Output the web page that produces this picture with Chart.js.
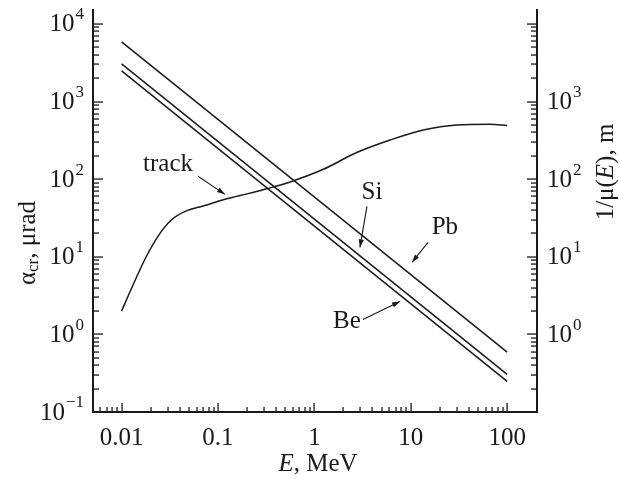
<!DOCTYPE html>
<html>
<head>
<meta charset="utf-8">
<script src="https://cdn.jsdelivr.net/npm/chart.js@4.4.0/dist/chart.umd.min.js"></script>
<style>
  html, body { margin: 0; padding: 0; background: #fff; }
  #wrap { width: 619px; height: 479px; }
</style>
</head>
<body>
<div id="wrap"><canvas id="my-chart" width="619" height="479"></canvas></div>
<script>
// values
const lineEnergy = [0.01, 100]          // E, MeV (end points of the straight lines)
const pbValues = [5860, 0.59]
const siValues = [3050, 0.305]
const beValues = [2480, 0.248]

const trackEnergy = [0.01, 0.013, 0.018, 0.025, 0.033, 0.047, 0.07, 0.118, 0.215, 0.32, 0.56, 1.24, 2.75, 6.1, 13.5, 30, 66, 100]
const trackValues = [2.0, 4.2, 10, 20, 30, 39, 45, 55, 66, 75, 92, 134, 220, 319, 430, 498, 508, 492]

const xTickValues = [0.01, 0.1, 1, 10, 100]
const xTickLabels = ['0.01', '0.1', '1', '10', '100']
const leftExponents = [-1, 0, 1, 2, 3, 4]
const rightExponents = [0, 1, 2, 3]
const minorSteps = [1, 2, 3, 4, 5, 6, 7, 8, 9]
const decades = [-3, -2, -1, 0, 1, 2, 3, 4]

// callouts, in data units (E, value)
const notes = [
  { text: 'track', at: [0.0303, 155], from: [0.0621, 109], to: [0.118, 63.7] },
  { text: 'Si', at: [3.96, 67.6], from: [3.51, 44.6], to: [2.97, 13.2] },
  { text: 'Pb', at: [22.6, 23.9], from: [15.1, 15.3], to: [10.3, 8.47] },
  { text: 'Be', at: [2.18, 1.47], from: [3.19, 1.56], to: [7.73, 2.66] }
]

const SERIF = '"Liberation Serif", "Times New Roman", serif'
const INK = '#1a1a1a'

function pairs(xs, ys) {
  return xs.map((x, i) => ({ x: x, y: ys[i] }))
}

function powerLabel(ctx, exp, x, y, alignRight) {
  const base = '10'
  const sup = exp < 0 ? '\u2212' + Math.abs(exp) : String(exp)
  ctx.font = '25px ' + SERIF
  const wb = ctx.measureText(base).width
  ctx.font = '17px ' + SERIF
  const ws = ctx.measureText(sup).width
  const x0 = alignRight ? x - wb - ws - 1 : x
  ctx.textAlign = 'left'
  ctx.textBaseline = 'middle'
  ctx.font = '25px ' + SERIF
  ctx.fillText(base, x0, y + 1)
  ctx.font = '17px ' + SERIF
  ctx.fillText(sup, x0 + wb + 1, y - 9)
}

// draws a run of [text, font, dy] pieces centred on (0,0)
function pieces(ctx, parts) {
  let total = 0
  parts.forEach(p => { ctx.font = p[1]; total += ctx.measureText(p[0]).width })
  let x = -total / 2
  ctx.textAlign = 'left'
  ctx.textBaseline = 'middle'
  parts.forEach(p => {
    ctx.font = p[1]
    ctx.fillText(p[0], x, p[2] || 0)
    x += ctx.measureText(p[0]).width
  })
}

function arrow(ctx, x1, y1, x2, y2) {
  ctx.beginPath()
  ctx.moveTo(x1, y1)
  ctx.lineTo(x2, y2)
  ctx.stroke()
  const a = Math.atan2(y2 - y1, x2 - x1)
  const len = 8, half = 2.6
  ctx.beginPath()
  ctx.moveTo(x2, y2)
  ctx.lineTo(x2 - len * Math.cos(a) + half * Math.sin(a), y2 - len * Math.sin(a) - half * Math.cos(a))
  ctx.lineTo(x2 - len * Math.cos(a) - half * Math.sin(a), y2 - len * Math.sin(a) + half * Math.cos(a))
  ctx.closePath()
  ctx.fill()
}

const decor = {
  id: 'decor',
  afterDraw(chart) {
    const ctx = chart.ctx
    const area = chart.chartArea
    const xs = chart.scales.x, yl = chart.scales.y, yr = chart.scales.y2
    ctx.save()
    ctx.fillStyle = INK
    ctx.strokeStyle = INK

    // inward ticks as thin filled bars, only where the scale puts them inside the frame
    const L = Math.round(area.left), R = Math.round(area.right), B = Math.round(area.bottom)
    decades.forEach(d => {
      minorSteps.forEach(m => {
        const v = m * Math.pow(10, d)
        const major = m === 1
        const px = xs.getPixelForValue(v)
        if (px > area.left + 1 && px < area.right - 1) {
          ctx.fillRect(Math.round(px) - 0.6, B - (major ? 9 : 5), 1.3, major ? 9 : 5)
        }
        const pl = yl.getPixelForValue(v)
        if (pl > area.top - 1 && pl < area.bottom - 1) {
          ctx.fillRect(L, Math.round(pl) - 0.6, major ? 10 : 6, 1.3)
        }
        const pr = yr.getPixelForValue(v)
        if (pr > area.top - 1 && pr < area.bottom - 1) {
          ctx.fillRect(R - (major ? 10 : 6), Math.round(pr) - 0.6, major ? 10 : 6, 1.3)
        }
      })
    })

    // tick labels
    ctx.font = '25px ' + SERIF
    ctx.textAlign = 'center'
    ctx.textBaseline = 'middle'
    xTickValues.forEach((v, i) => {
      ctx.fillText(xTickLabels[i], xs.getPixelForValue(v), area.bottom + 26)
    })
    leftExponents.forEach(e => powerLabel(ctx, e, area.left - 9, yl.getPixelForValue(Math.pow(10, e)), true))
    rightExponents.forEach(e => powerLabel(ctx, e, area.right + 10, yr.getPixelForValue(Math.pow(10, e)), false))

    // axis titles
    const big = '25px ' + SERIF, small = '17px ' + SERIF, ital = 'italic 25px ' + SERIF
    ctx.save()
    ctx.translate(28, 243)
    ctx.rotate(-Math.PI / 2)
    pieces(ctx, [['\u03b1', big], ['cr', small, 6], [', \u03bcrad', big]])
    ctx.restore()

    ctx.save()
    ctx.translate(606, 172)
    ctx.rotate(-Math.PI / 2)
    pieces(ctx, [['1/\u03bc(', big], ['E', ital], ['), m', big]])
    ctx.restore()

    ctx.save()
    ctx.translate(318, area.bottom + 52)
    pieces(ctx, [['E', ital], [', MeV', big]])
    ctx.restore()

    // callouts
    ctx.lineWidth = 1.1
    notes.forEach(n => {
      ctx.font = '25px ' + SERIF
      ctx.textAlign = 'center'
      ctx.textBaseline = 'middle'
      ctx.fillText(n.text, xs.getPixelForValue(n.at[0]), yl.getPixelForValue(n.at[1]))
      arrow(ctx,
        xs.getPixelForValue(n.from[0]), yl.getPixelForValue(n.from[1]),
        xs.getPixelForValue(n.to[0]), yl.getPixelForValue(n.to[1]))
    })
    ctx.restore()
  }
}

const lineStyle = { borderColor: INK, borderWidth: 1.5, pointRadius: 0, fill: false }

const logAxis = (extra) => Object.assign({
  type: 'logarithmic',
  grid: { display: false, drawTicks: false },
  ticks: { display: false },
  border: { display: true, color: INK, width: 2 }
}, extra)

function drawChart() {
  new Chart(document.getElementById('my-chart').getContext('2d'), {
    type: 'line',
    data: {
      datasets: [
        Object.assign({ label: 'Pb', data: pairs(lineEnergy, pbValues) }, lineStyle),
        Object.assign({ label: 'Si', data: pairs(lineEnergy, siValues) }, lineStyle),
        Object.assign({ label: 'Be', data: pairs(lineEnergy, beValues) }, lineStyle),
        Object.assign({ label: 'track', data: pairs(trackEnergy, trackValues), cubicInterpolationMode: 'monotone' }, lineStyle)
      ]
    },
    options: {
      responsive: false,
      animation: false,
      events: [],
      layout: { padding: { top: 10, left: 0, right: 0, bottom: 0 } },
      plugins: { legend: { display: false }, tooltip: { enabled: false } },
      scales: {
        x: logAxis({ position: 'bottom', min: 0.00505, max: 204, afterFit: s => { s.height = 67 } }),
        y: logAxis({ position: 'left', min: 0.1, max: 15100, afterFit: s => { s.width = 93 } }),
        y2: logAxis({ position: 'right', min: 0.1, max: 15100, afterFit: s => { s.width = 82 } })
      }
    },
    plugins: [decor]
  })
}

Promise.all([
  document.fonts.load('25px "Liberation Serif"'),
  document.fonts.load('italic 25px "Liberation Serif"')
]).then(drawChart, drawChart)
</script>
</body>
</html>
